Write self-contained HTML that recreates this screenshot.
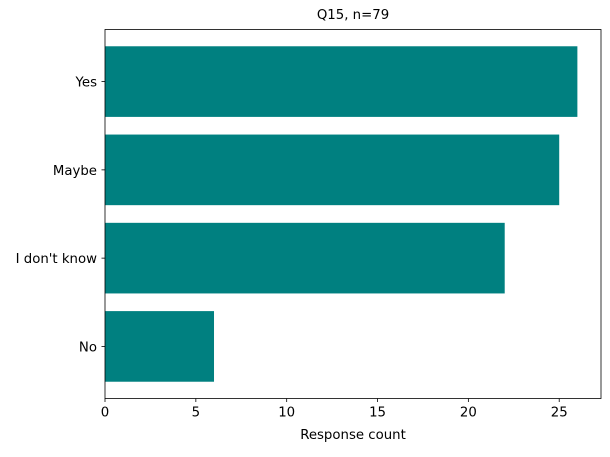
<!DOCTYPE html>
<html><head><meta charset="utf-8"><style>
body{margin:0;background:#fff;}
svg text{font-family:"DejaVu Sans","Liberation Sans",sans-serif;fill:#000;}
</style></head><body>
<svg id="chart" width="610" height="452"></svg>
<script>
const categories = ["No", "I don't know", "Maybe", "Yes"];
const counts = [6, 22, 25, 26];
const xTicks = [0, 5, 10, 15, 20, 25];

const L = 105, R = 601, T = 29.5, B = 398.5;
const xMax = Math.max(...counts) * 1.05;
const yMin = -0.59, yMax = categories.length - 1 + 0.59;
const xs = v => L + v / xMax * (R - L);
const ys = v => T + (yMax - v) / (yMax - yMin) * (B - T);
const svg = document.getElementById('chart');
const NS = 'http://www.w3.org/2000/svg';
function mk(tag, attrs, text) {
  const e = document.createElementNS(NS, tag);
  for (const k in attrs) e.setAttribute(k, attrs[k]);
  if (text !== undefined) e.textContent = text;
  svg.appendChild(e);
  return e;
}
const bh = (ys(0) - ys(0.8));
categories.forEach((c, i) => {
  const r = mk('rect', {x: xs(0), y: ys(i) - bh / 2, width: xs(counts[i]) - xs(0), height: bh, fill: '#008080'});
  
  
  const tk = mk('line', {x1: L - 3.5, x2: L, y1: ys(i), y2: ys(i), stroke: '#000', 'stroke-width': 0.8});
  
  
  const lb = mk('text', {x: L - 8, y: ys(i) + 5, 'text-anchor': 'end', 'font-size': 13.3}, c);
  
  
});
xTicks.forEach(t => {
  const tk = mk('line', {x1: xs(t), x2: xs(t), y1: B, y2: B + 3.5, stroke: '#000', 'stroke-width': 0.8});
  
  
  const lb = mk('text', {x: xs(t), y: B + 18, 'text-anchor': 'middle', 'font-size': 13.3}, String(t));
  
  
});
const frame = mk('rect', {x: L, y: T, width: R - L, height: B - T, fill: 'none', stroke: '#000', 'stroke-width': 0.8});


const xt = mk('text', {x: (L + R) / 2, y: 439, 'text-anchor': 'middle', 'font-size': 13.3}, 'Response count');


const ti = mk('text', {x: (L + R) / 2, y: 19, 'text-anchor': 'middle', 'font-size': 13.3}, 'Q15, n=79');


</script>
</body></html>
